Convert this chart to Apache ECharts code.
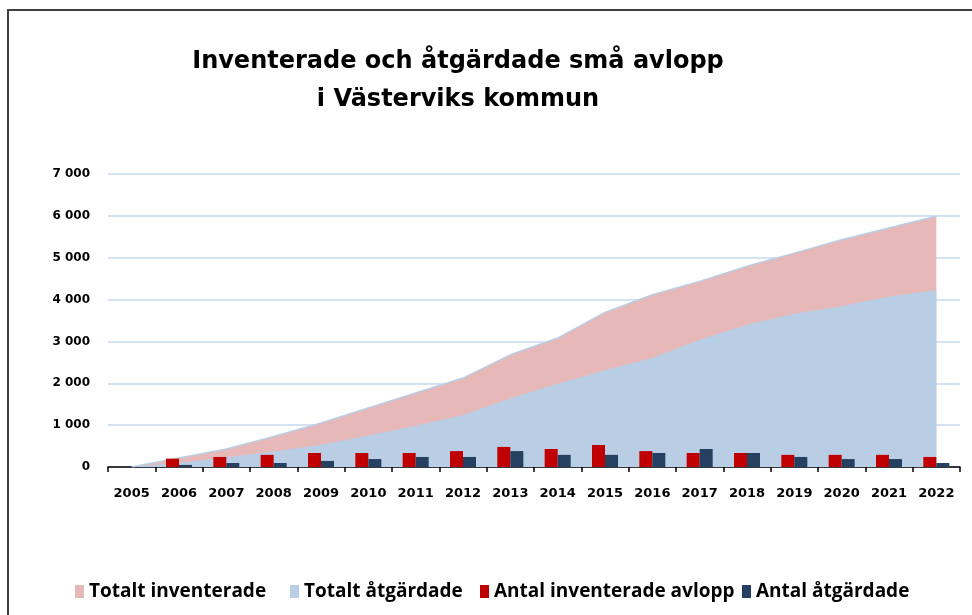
<!DOCTYPE html>
<html lang="sv">
<head>
    <meta charset="utf-8">
    <title>Små avlopp</title>
    <script src="https://cdn.jsdelivr.net/npm/echarts@6/dist/echarts.min.js"></script>
    <style>
        html, body { margin: 0; padding: 0; background: #fff; }
    </style>
</head>
<body>
    <div id="main" style="width: 972px;height:615px;"></div>
    <script type="text/javascript">
        var myChart = echarts.init(document.getElementById('main'));

        // data
        var years = ['2005', '2006', '2007', '2008', '2009', '2010', '2011', '2012', '2013',
                     '2014', '2015', '2016', '2017', '2018', '2019', '2020', '2021', '2022'];
        var totaltInventerade = [0, 215, 430, 730, 1050, 1410, 1770, 2125, 2680,
                                 3080, 3695, 4115, 4435, 4795, 5110, 5430, 5710, 5990];
        var totaltAtgardade = [0, 95, 230, 370, 530, 750, 985, 1245, 1640,
                               1990, 2310, 2605, 3040, 3400, 3660, 3840, 4075, 4220];
        var antalInventerade = ['-', 200, 240, 290, 335, 335, 335, 380, 480,
                                430, 525, 380, 335, 335, 290, 290, 290, 240];
        var antalAtgardade = ['-', 50, 95, 95, 145, 190, 240, 240, 380,
                              290, 290, 335, 430, 335, 240, 190, 190, 95];
        var yTicks = [0, 1000, 2000, 3000, 4000, 5000, 6000, 7000];
        var seriesNames = ['Totalt inventerade', 'Totalt åtgärdade', 'Antal inventerade avlopp', 'Antal åtgärdade'];

        var font = 'Open Sans';
        var axisFont = 'DejaVu Sans';

        function fmt(v) {
            // "7 000" style thousands
            return String(v).replace(/\B(?=(\d{3})+(?!\d))/g, ' ');
        }

        // one legend per entry so the spacing can follow the original
        var legendLeft = [75, 290, 480, 742];
        var legends = seriesNames.map(function (name, i) {
            return {
                left: legendLeft[i],
                top: 582,
                padding: 0,
                itemWidth: 9,
                itemHeight: 13,
                itemGap: 0,
                icon: 'rect',
                textStyle: {
                    fontFamily: font,
                    fontSize: 19,
                    fontWeight: 'bold',
                    color: '#000'
                },
                data: [name]
            };
        });

        var option = {
            backgroundColor: '#fff',
            animation: false,
            title: {
                text: 'Inventerade och åtgärdade små avlopp\ni Västerviks kommun',
                left: 453,
                top: 38,
                textAlign: 'center',
                textStyle: {
                    fontFamily: axisFont,
                    fontSize: 24,
                    fontWeight: 'bold',
                    color: '#000',
                    lineHeight: 38,
                    align: 'center'
                }
            },
            graphic: [{
                type: 'polyline',
                shape: { points: [[8, 615], [8, 10], [972, 10]] },
                style: { stroke: '#404040', lineWidth: 2, fill: null }
            }],
            legend: legends,
            grid: {
                left: 108,
                right: 12,
                top: 174,
                bottom: 148
            },
            xAxis: {
                type: 'category',
                data: years,
                boundaryGap: true,
                axisLine: { lineStyle: { color: '#000', width: 1.5 } },
                axisTick: { show: true, length: 5, lineStyle: { color: '#000', width: 1.5 } },
                axisLabel: {
                    fontFamily: axisFont,
                    fontSize: 13,
                    fontWeight: 'bold',
                    color: '#000',
                    margin: 20
                }
            },
            yAxis: {
                type: 'value',
                min: yTicks[0],
                max: yTicks[yTicks.length - 1],
                interval: 1000,
                axisLine: { show: false },
                axisTick: { show: false },
                splitLine: { lineStyle: { color: '#c6d9f1', width: 1.5 } },
                axisLabel: {
                    fontFamily: axisFont,
                    fontSize: 12,
                    fontWeight: 'bold',
                    color: '#000',
                    margin: 18,
                    formatter: fmt
                }
            },
            series: [{
                name: seriesNames[0],
                type: 'line',
                data: totaltInventerade,
                symbol: 'none',
                itemStyle: { color: '#e6b9b8' },
                lineStyle: { color: '#b9cde5', width: 1.5 },
                areaStyle: { color: '#e6b9b8', opacity: 1 },
                z: 1
            }, {
                name: seriesNames[1],
                type: 'line',
                data: totaltAtgardade,
                symbol: 'none',
                itemStyle: { color: '#b9cde5' },
                lineStyle: { width: 0 },
                areaStyle: { color: '#b9cde5', opacity: 1 },
                z: 2
            }, {
                name: seriesNames[2],
                type: 'bar',
                data: antalInventerade,
                barWidth: 13,
                barGap: '0%',
                itemStyle: { color: '#c00000' },
                z: 3
            }, {
                name: seriesNames[3],
                type: 'bar',
                data: antalAtgardade,
                barWidth: 13,
                barGap: '0%',
                itemStyle: { color: '#254061' },
                z: 3
            }]
        };

        myChart.setOption(option);
    </script>
</body>
</html>
